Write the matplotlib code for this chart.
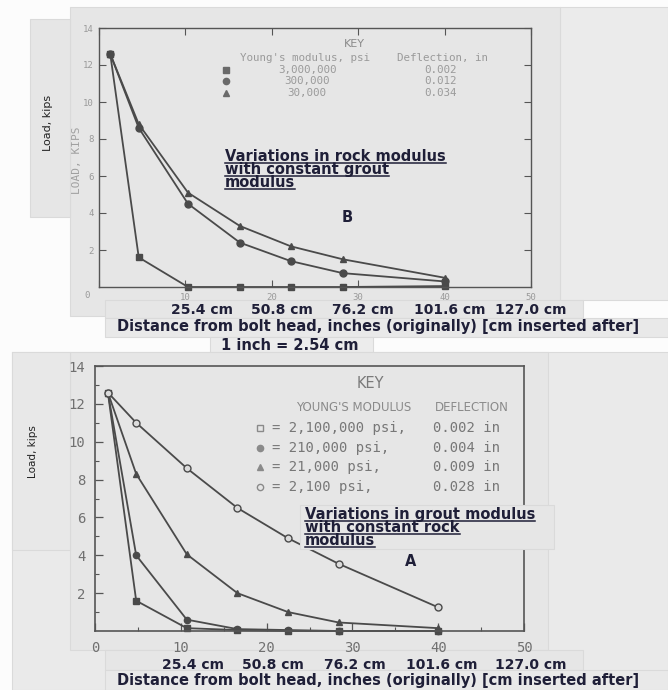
import matplotlib
matplotlib.use('Agg')
import matplotlib.pyplot as plt
from matplotlib.patches import Rectangle
from matplotlib.lines import Line2D
from matplotlib.font_manager import FontProperties

# ── Dados (polegadas / kips) ─────────────────────────────────────────────────
# B: variação do módulo da rocha, módulo do graute constante
dist_b = [1.3, 4.6, 10.3, 16.3, 22.2, 28.2, 40.0]
load_b_3000000 = [12.6, 1.6, 0.0, 0.0, 0.0, 0.0, 0.05]
load_b_300000 = [12.6, 8.6, 4.5, 2.4, 1.4, 0.75, 0.3]
load_b_30000 = [12.6, 8.8, 5.1, 3.3, 2.2, 1.5, 0.5]
key_b_modulus = ['3,000,000', '300,000', '30,000']
key_b_deflection = ['0.002', '0.012', '0.034']

# A: variação do módulo do graute, módulo da rocha constante
dist_a = [1.5, 4.8, 10.7, 16.6, 22.5, 28.4, 40.0]
load_a_2100000 = [12.6, 1.6, 0.15, 0.05, 0.0, 0.0, 0.0]
load_a_210000 = [12.6, 4.0, 0.6, 0.1, 0.05, 0.0, 0.0]
load_a_21000 = [12.6, 8.3, 4.05, 2.0, 1.0, 0.45, 0.15]
load_a_2100 = [12.6, 11.0, 8.6, 6.5, 4.9, 3.55, 1.25]
key_a_modulus = ['2,100,000 psi,', '210,000 psi,', '21,000 psi,', '2,100 psi,']
key_a_deflection = ['0.002 in', '0.004 in', '0.009 in', '0.028 in']

x_ticks = [0, 10, 20, 30, 40, 50]
y_ticks = [2, 4, 6, 8, 10, 12, 14]
cm_labels = ['25.4 cm', '50.8 cm', '76.2 cm', '101.6 cm', '127.0 cm']

W, H = 668, 690
LINE = '#4a4a4a'
INK = '#1f1f38'
BG = '#e6e6e6'


def fx(x):
    return x / W


def fy(y):
    return 1 - y / H


def panel(x0, y0, x1, y1, color=BG, z=-2):
    fig.add_artist(Rectangle((fx(x0), fy(y1)), (x1 - x0) / W, (y1 - y0) / H,
                             transform=fig.transFigure, facecolor=color,
                             edgecolor='#dadada', linewidth=0.8, zorder=z))


fig = plt.figure(figsize=(W / 100, H / 100), dpi=100, facecolor='#fcfcfc')
rend = fig.canvas.get_renderer()

# ── Fundo "colado" (recortes cinza) ──────────────────────────────────────────
panel(560, 7, 668, 300, '#ebebeb')
panel(70, 7, 560, 316)
panel(30, 19, 70, 217)
panel(105, 300, 583, 318)
panel(105, 318, 668, 337, '#e9e9e9')
panel(210, 337, 373, 353, '#ececec')
panel(12, 352, 668, 690, '#eaeaea')
panel(70, 352, 548, 650)
panel(12, 352, 70, 550, '#e8e8e8')
panel(105, 650, 583, 670)
panel(105, 670, 668, 690, '#e9e9e9')

# ── Gráfico B (topo) ─────────────────────────────────────────────────────────
ax_b = fig.add_axes([fx(99), fy(287), 432 / W, 259 / H])
ax_b.set_facecolor('none')
ax_b.plot(dist_b, load_b_3000000, color=LINE, lw=1.3, marker='s', ms=5, clip_on=False)
ax_b.plot(dist_b, load_b_300000, color=LINE, lw=1.3, marker='o', ms=5, clip_on=False)
ax_b.plot(dist_b, load_b_30000, color=LINE, lw=1.3, marker='^', ms=5, clip_on=False)
ax_b.set_xlim(0, 50)
ax_b.set_ylim(0, 14)
ax_b.set_xticks(x_ticks)
ax_b.set_xticklabels([''] + [str(v) for v in x_ticks[1:]])
ax_b.set_yticks(y_ticks)
ax_b.tick_params(direction='in', top=True, right=True, length=5, width=0.8,
                 color='#555555', labelsize=6.5, labelcolor='#9a9a9a', pad=4)
for lab in ax_b.get_xticklabels() + ax_b.get_yticklabels():
    lab.set_family('DejaVu Sans Mono')
for s in ax_b.spines.values():
    s.set_color('#555555')
    s.set_linewidth(1.0)
ax_b.text(-1.4, -0.45, '0', ha='center', va='center', fontsize=6.5,
          color='#9a9a9a', family='DejaVu Sans Mono', clip_on=False)

# legenda B
mono_b = dict(fontsize=7.8, color='#9a9a9a', family='DejaVu Sans Mono',
              ha='center', va='center')
ax_b.text(29.5, 13.15, 'KEY', ha='center', va='center', fontsize=8, color='#8a8a8a')
ax_b.text(23.8, 12.4, "Young's modulus, psi", **mono_b)
ax_b.text(39.8, 12.4, 'Deflection, in', **mono_b)
for i, mk in enumerate(['s', 'o', '^']):
    yy = 11.75 - 0.63 * i
    ax_b.plot([14.7], [yy], marker=mk, ms=4.5, color='#6a6a6a', ls='none')
    ax_b.text(24.1, yy, key_b_modulus[i], **mono_b)
    ax_b.text(39.5, yy, key_b_deflection[i], **mono_b)

fig.text(fx(77), fy(160), 'LOAD, KIPS', rotation=90, ha='center', va='center',
         fontsize=8, color='#a0a0a0', family='DejaVu Sans Mono')
fig.text(fx(48), fy(123), 'Load, kips', rotation=90, ha='center', va='center',
         fontsize=8, color='#222222')

# ── Gráfico A (baixo) ────────────────────────────────────────────────────────
ax_a = fig.add_axes([fx(95), fy(631), 429 / W, 265 / H])
ax_a.set_facecolor('none')
ax_a.plot(dist_a, load_a_2100000, color=LINE, lw=1.3, marker='s', ms=5, clip_on=False)
ax_a.plot(dist_a, load_a_210000, color=LINE, lw=1.3, marker='o', ms=4.5, clip_on=False)
ax_a.plot(dist_a, load_a_21000, color=LINE, lw=1.3, marker='^', ms=5, clip_on=False)
ax_a.plot(dist_a, load_a_2100, color=LINE, lw=1.3, marker='o', ms=5,
          mfc='#dcdcdc', mec=LINE, clip_on=False)
ax_a.set_xlim(0, 50)
ax_a.set_ylim(0, 14)
ax_a.set_xticks(x_ticks)
ax_a.set_xticks([5, 15, 25, 35, 45], minor=True)
ax_a.set_yticks(y_ticks)
ax_a.set_yticks([1, 3, 5, 7, 9, 11, 13], minor=True)
ax_a.tick_params(which='major', direction='in', length=6, width=0.9, color='#555555',
                 labelsize=10, labelcolor='#707070', pad=7)
ax_a.tick_params(which='minor', direction='in', length=3, width=0.8, color='#555555')
for lab in ax_a.get_xticklabels() + ax_a.get_yticklabels():
    lab.set_family('DejaVu Sans Mono')
for s in ax_a.spines.values():
    s.set_color('#555555')
    s.set_linewidth(1.2)

# legenda A
ax_a.text(32.1, 13.05, 'KEY', ha='center', va='center', fontsize=10.5, color='#7a7a7a')
ax_a.text(30.1, 11.83, "YOUNG'S MODULUS", ha='center', va='center',
          fontsize=8.5, color='#8a8a8a')
ax_a.text(43.9, 11.83, 'DEFLECTION', ha='center', va='center',
          fontsize=8.5, color='#8a8a8a')
key_a_marks = [('s', '#8a8a8a', 'none'), ('o', '#8a8a8a', '#8a8a8a'),
               ('^', '#8a8a8a', '#8a8a8a'), ('o', '#8a8a8a', 'none')]
for i, (mk, ec, fc) in enumerate(key_a_marks):
    yy = 10.72 - 1.03 * i
    ax_a.plot([19.2], [yy], marker=mk, ms=4.5, mec=ec, mfc=fc, ls='none')
    ax_a.text(20.6, yy, '= ' + key_a_modulus[i], ha='left', va='center',
              fontsize=10, color='#777777', family='DejaVu Sans Mono')
    ax_a.text(39.4, yy, key_a_deflection[i], ha='left', va='center',
              fontsize=10, color='#777777', family='DejaVu Sans Mono')

fig.text(fx(33), fy(452), 'Load, kips', rotation=90, ha='center', va='center',
         fontsize=7.5, color='#222222')

# caixa que cobre a borda direita do gráfico A
panel(300, 505, 554, 549, '#e6e6e6', z=1)

# ── Textos inseridos (cm, título do eixo, notas) ─────────────────────────────
bold = dict(fontsize=10.5, fontweight='bold', color=INK, family='DejaVu Sans')
bold_cm = dict(bold, fontsize=10)
for lab, xc in zip(cm_labels, [202, 282, 363, 450, 531]):
    fig.text(fx(xc), fy(310), lab, ha='center', va='center', **bold_cm)
for lab, xc in zip(cm_labels, [193, 273, 355, 442, 531]):
    fig.text(fx(xc), fy(665), lab, ha='center', va='center', **bold_cm)

dist_txt = 'Distance from bolt head, inches (originally) [cm inserted after]'
fig.text(fx(117), fy(327), dist_txt, ha='left', va='center', **bold)
fig.text(fx(117), fy(680), dist_txt, ha='left', va='center', **bold)
fig.text(fx(290), fy(346), '1 inch = 2.54 cm', ha='center', va='center', **bold)

fp_bold = FontProperties(family='DejaVu Sans', weight='bold', size=10.5)
_, lp_h, lp_d = rend.get_text_width_height_descent('lp', fp_bold, ismath=False)
PASSO = 13  # distância entre linhas das notas, px
# no matplotlib: passo = descida + subida * linespacing
ESPACO = (PASSO - lp_d) / (lp_h - lp_d)


def nota(x, y, linhas):
    # texto de várias linhas sublinhado; y = linha de base da primeira linha
    # (com va='baseline' o matplotlib alinha a base da última linha)
    y_ult = y + PASSO * (len(linhas) - 1)
    fig.text(fx(x), fy(y_ult), '\n'.join(linhas), ha='left', va='baseline',
             linespacing=ESPACO, zorder=3, **bold)
    for i, linha in enumerate(linhas):
        w_px, _, _ = rend.get_text_width_height_descent(linha, fp_bold, ismath=False)
        yb = fy(y + PASSO * i + 2)
        fig.add_artist(Line2D([fx(x), fx(x + w_px)], [yb, yb],
                              transform=fig.transFigure, color=INK, lw=1.1, zorder=3))


nota(225, 161, ['Variations in rock modulus', 'with constant grout', 'modulus'])
nota(305, 519, ['Variations in grout modulus', 'with constant rock', 'modulus'])

fig.text(fx(347), fy(217), 'B', ha='center', va='center', **bold)
fig.text(fx(411), fy(561), 'A', ha='center', va='center', **bold)

plt.savefig('out.png', dpi=100, facecolor=fig.get_facecolor())
plt.close()
